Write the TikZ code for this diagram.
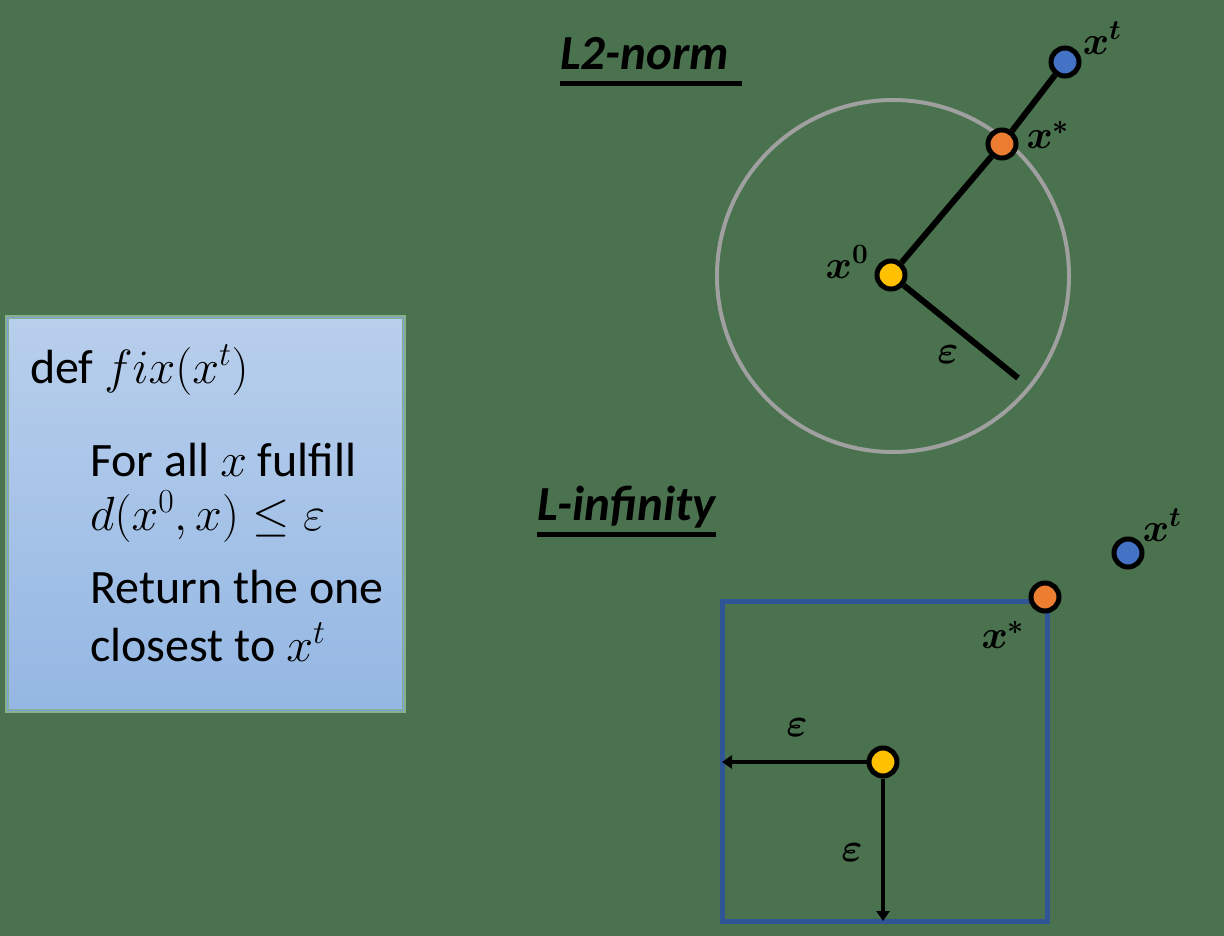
\documentclass[tikz,border=0pt]{standalone}
\usepackage{fix-cm}
\usepackage{amsmath,amssymb}
\usepackage{fontspec}
\setmainfont{Carlito}
\usetikzlibrary{arrows.meta}
\definecolor{bg}{RGB}{74,114,78}
\definecolor{boxtop}{RGB}{184,207,236}
\definecolor{boxbot}{RGB}{148,183,227}
\definecolor{boxedge}{RGB}{136,176,138}
\definecolor{boxinner}{RGB}{120,160,222}
\definecolor{dotY}{RGB}{255,192,0}
\definecolor{dotO}{RGB}{237,125,49}
\definecolor{dotB}{RGB}{68,114,196}
\definecolor{sqblue}{RGB}{47,85,151}
\definecolor{ringgray}{RGB}{160,160,160}
\tikzset{
  dot/.style={circle,draw=black,line width=5pt,minimum size=28pt,inner sep=0pt},
  ln/.style={draw=black,line width=6pt},
  arr/.style={draw=black,line width=4.5pt,-{Triangle[length=10pt,width=13pt]}},
  lbl/.style={inner sep=0pt,font=\fontsize{40}{46}\selectfont\boldmath},
  title/.style={inner sep=0pt,anchor=base west,font=\fontsize{49}{56}\selectfont\bfseries\itshape},
  uline/.style={draw=black,line width=5pt},
  boxtxt/.style={inner sep=0pt,anchor=base west,font=\fontsize{48}{56}\selectfont}
}
\begin{document}
\begin{tikzpicture}[x=1pt,y=-1pt]
\fill[bg] (0,0) rectangle (1224,936);
\useasboundingbox (0,0) rectangle (1224,936);
% code box
\node[draw=boxedge,line width=4pt,top color=boxtop,bottom color=boxbot,
      minimum width=397pt,minimum height=394pt,anchor=north west,inner sep=0pt] (box) at (5,315) {};
\draw[boxinner,line width=1.2pt] ([shift={(2.5pt,-2.5pt)}]box.north west) rectangle ([shift={(-2.5pt,2.5pt)}]box.south east);
\node[boxtxt] (t1) at (30,383) {def $fix(x^t)$};
\node[boxtxt] (t2) at (90,476) {For all $x$ fulfill};
\node[boxtxt] (t3) at (90,530) {$d(x^0,x)\le\varepsilon$};
\node[boxtxt] (t4) at (90,603) {Return the one};
\node[boxtxt] (t5) at (90,661) {closest to $x^t$};
% L2-norm
\node[title] (l2) at (560,70) {L2-norm};
\coordinate (u2a) at (560,84);
\coordinate (u2b) at (742,84);
\draw[uline] (u2a) -- (u2b);
\draw[ringgray,line width=4pt] (893,276) circle[radius=176pt];
\node[dot,fill=dotY] (y2) at (891,275) {};
\node[dot,fill=dotO] (o2) at (1002,144) {};
\node[dot,fill=dotB] (b2) at (1065,62) {};
\coordinate (e2) at (1018,378);
\draw[ln] (y2) -- (o2);
\draw[ln] (o2) -- (b2);
\draw[ln] (y2) -- (e2);
\node[lbl] (lx0) at (847,262) {$x^0$};
\node[lbl] (lxs2) at (1048,135) {$x^*$};
\node[lbl] (lxt2) at (1102,38) {$x^t$};
\node[lbl] (le2) at (948,355) {$\varepsilon$};
% L-infinity
\node[title] (linf) at (537,520) {L-infinity};
\coordinate (u8a) at (537,534);
\coordinate (u8b) at (716,534);
\draw[uline] (u8a) -- (u8b);
\draw[sqblue,line width=5pt] (722,601) rectangle (1047,921);
\node[dot,fill=dotY] (y8) at (883,762) {};
\node[dot,fill=dotO] (o8) at (1045,597) {};
\node[dot,fill=dotB] (b8) at (1128,553) {};
\coordinate (l8) at (722,762);
\coordinate (d8) at (883,921);
\draw[arr] (y8) -- (l8);
\draw[arr] (y8) -- (d8);
\node[lbl] (le8a) at (797,728) {$\varepsilon$};
\node[lbl] (le8b) at (852,853) {$\varepsilon$};
\node[lbl] (lxs8) at (1003,635) {$x^*$};
\node[lbl] (lxt8) at (1162,525) {$x^t$};
\end{tikzpicture}
\end{document}
